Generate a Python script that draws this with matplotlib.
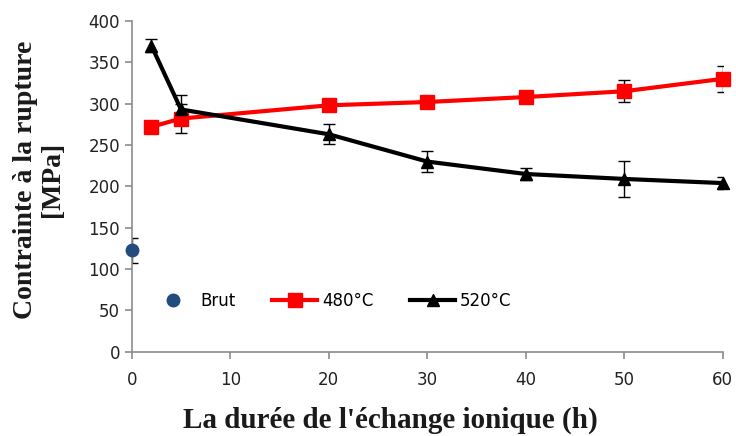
import matplotlib
matplotlib.use("Agg")
import matplotlib.pyplot as plt

# Tensile strength vs ion-exchange duration
brut_x = [0]
brut_y = [123]
brut_err = [15]

t_480 = [2, 5, 20, 30, 40, 50, 60]
s_480 = [272, 282, 298, 302, 308, 315, 330]
e_480 = [0, 17, 0, 0, 0, 13, 16]

t_520 = [2, 5, 20, 30, 40, 50, 60]
s_520 = [370, 293, 263, 230, 215, 209, 204]
e_520 = [8, 17, 12, 13, 7, 22, 7]

fig = plt.figure(figsize=(7.36, 4.36), dpi=100)
ax = fig.add_axes([0.179, 0.193, 0.803, 0.759])

blue = "#234b7d"
ax.errorbar(brut_x, brut_y, yerr=brut_err, fmt="none", ecolor="black",
            elinewidth=1, capsize=4, capthick=1, zorder=2)
h_brut, = ax.plot(brut_x, brut_y, "o", color=blue, ms=9, ls="none",
                  label="Brut", zorder=4, clip_on=False)

ax.errorbar(t_480, s_480, yerr=e_480, fmt="none", ecolor="black",
            elinewidth=1, capsize=4, capthick=1, zorder=2)
h480, = ax.plot(t_480, s_480, "-s", color="#ff0000", lw=3, ms=10,
                label="480°C", zorder=3, clip_on=False)

ax.errorbar(t_520, s_520, yerr=e_520, fmt="none", ecolor="black",
            elinewidth=1, capsize=4, capthick=1, zorder=2)
h520, = ax.plot(t_520, s_520, "-^", color="black", lw=3, ms=9,
                label="520°C", zorder=3, clip_on=False)

ax.set_xlim(0, 60)
ax.set_ylim(0, 400)
ax.set_xticks(range(0, 61, 10))
ax.set_yticks(range(0, 401, 50))

for s in ("top", "right"):
    ax.spines[s].set_visible(False)
for s in ("left", "bottom"):
    ax.spines[s].set_color("#8c8c8c")
    ax.spines[s].set_linewidth(1.2)
ax.tick_params(axis="both", colors="#8c8c8c", length=5, width=1.2,
               labelsize=12, labelcolor="#222222")
ax.tick_params(axis="x", pad=9)

ax.set_xlabel("La durée de l'échange ionique (h)", family="Liberation Serif",
              fontweight="bold", fontsize=21, color="#1a1a1a")
ax.xaxis.set_label_coords(0.437, -0.165)
ax.set_ylabel("Contrainte à la rupture\n[MPa]", family="Liberation Serif",
              fontweight="bold", fontsize=20, color="#1a1a1a",
              linespacing=1.1)
ax.yaxis.set_label_coords(-0.113, 0.52)

ax.legend(handles=[h_brut, h480, h520], loc="center left",
          bbox_to_anchor=(0.02, 0.153), ncol=3, frameon=False, fontsize=12,
          handlelength=2.7, columnspacing=2.2, handletextpad=0.3,
          borderaxespad=0)

fig.savefig("out.png", dpi=100)
